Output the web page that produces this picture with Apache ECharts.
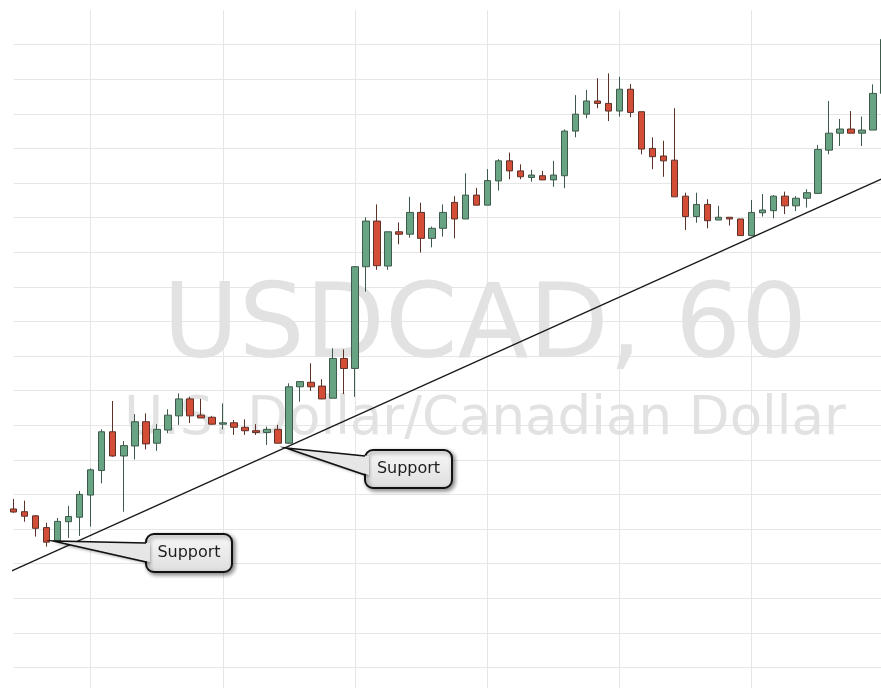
<!DOCTYPE html>
<html>
<head>
<meta charset="utf-8">
<title>USDCAD, 60</title>
<script src="https://cdn.jsdelivr.net/npm/echarts@6/dist/echarts.min.js"></script>
<style>
  html, body { margin: 0; padding: 0; background: #ffffff; }
  #chart { width: 881px; height: 688px; }
</style>
</head>
<body>
<div id="chart"></div>
<script>
// hourly USDCAD bars (open / close / low / high)
const opens = [
  1.30558, 1.30550, 1.30538, 1.30504, 1.30466, 1.30521, 1.30534, 1.30598, 1.30669, 1.30781,
  1.30711, 1.30740, 1.30810, 1.30748, 1.30786, 1.30827, 1.30876, 1.30829, 1.30823, 1.30803,
  1.30807, 1.30794, 1.30784, 1.30779, 1.30788, 1.30748, 1.30911, 1.30924, 1.30913, 1.30878,
  1.30993, 1.30964, 1.31258, 1.31390, 1.31260, 1.31359, 1.31352, 1.31415, 1.31340, 1.31369,
  1.31444, 1.31396, 1.31465, 1.31436, 1.31506, 1.31564, 1.31535, 1.31516, 1.31521, 1.31509,
  1.31521, 1.31650, 1.31699, 1.31737, 1.31730, 1.31708, 1.31771, 1.31706, 1.31600, 1.31578,
  1.31566, 1.31462, 1.31403, 1.31438, 1.31393, 1.31401, 1.31396, 1.31348, 1.31414, 1.31420,
  1.31462, 1.31434, 1.31456, 1.31470, 1.31595, 1.31644, 1.31656, 1.31644, 1.31653, 1.31759
];
const closes = [
  1.30549, 1.30537, 1.30502, 1.30462, 1.30522, 1.30536, 1.30600, 1.30671, 1.30781, 1.30711,
  1.30741, 1.30810, 1.30746, 1.30788, 1.30829, 1.30876, 1.30827, 1.30821, 1.30803, 1.30807,
  1.30794, 1.30784, 1.30779, 1.30788, 1.30748, 1.30911, 1.30926, 1.30911, 1.30876, 1.30993,
  1.30964, 1.31258, 1.31390, 1.31261, 1.31359, 1.31352, 1.31415, 1.31340, 1.31369, 1.31415,
  1.31396, 1.31465, 1.31436, 1.31507, 1.31564, 1.31535, 1.31518, 1.31523, 1.31509, 1.31523,
  1.31650, 1.31699, 1.31737, 1.31730, 1.31708, 1.31771, 1.31704, 1.31598, 1.31576, 1.31564,
  1.31460, 1.31403, 1.31438, 1.31391, 1.31401, 1.31396, 1.31348, 1.31415, 1.31422, 1.31462,
  1.31434, 1.31456, 1.31472, 1.31597, 1.31644, 1.31656, 1.31644, 1.31653, 1.31759, 1.31915
];
const lows = [
  1.30547, 1.30521, 1.30478, 1.30449, 1.30466, 1.30474, 1.30480, 1.30507, 1.30632, 1.30709,
  1.30550, 1.30701, 1.30730, 1.30726, 1.30777, 1.30801, 1.30806, 1.30821, 1.30801, 1.30788,
  1.30772, 1.30772, 1.30772, 1.30743, 1.30748, 1.30746, 1.30868, 1.30899, 1.30875, 1.30878,
  1.30890, 1.30882, 1.31186, 1.31249, 1.31249, 1.31323, 1.31342, 1.31299, 1.31314, 1.31345,
  1.31340, 1.31396, 1.31436, 1.31436, 1.31478, 1.31511, 1.31511, 1.31504, 1.31509, 1.31489,
  1.31485, 1.31632, 1.31687, 1.31716, 1.31679, 1.31692, 1.31690, 1.31583, 1.31540, 1.31518,
  1.31460, 1.31364, 1.31385, 1.31369, 1.31393, 1.31377, 1.31348, 1.31348, 1.31403, 1.31398,
  1.31410, 1.31419, 1.31429, 1.31470, 1.31583, 1.31607, 1.31644, 1.31607, 1.31653, 1.31759
];
const highs = [
  1.30587, 1.30582, 1.30540, 1.30518, 1.30532, 1.30567, 1.30610, 1.30675, 1.30788, 1.30870,
  1.30754, 1.30832, 1.30834, 1.30803, 1.30846, 1.30892, 1.30882, 1.30876, 1.30827, 1.30863,
  1.30815, 1.30817, 1.30803, 1.30796, 1.30801, 1.30921, 1.30926, 1.30979, 1.30933, 1.31022,
  1.31019, 1.31260, 1.31401, 1.31438, 1.31359, 1.31386, 1.31460, 1.31443, 1.31374, 1.31438,
  1.31462, 1.31528, 1.31486, 1.31540, 1.31569, 1.31588, 1.31554, 1.31538, 1.31535, 1.31564,
  1.31655, 1.31754, 1.31769, 1.31803, 1.31817, 1.31807, 1.31786, 1.31706, 1.31632, 1.31622,
  1.31716, 1.31472, 1.31472, 1.31453, 1.31434, 1.31401, 1.31396, 1.31451, 1.31468, 1.31465,
  1.31475, 1.31462, 1.31482, 1.31610, 1.31737, 1.31685, 1.31708, 1.31692, 1.31785, 1.31925
];

// support trendline, two ends: [bar index, price]
const trendline = [[-1, 1.30367], [80, 1.31529]];

const symbolTitle = 'USDCAD, 60';
const symbolName = 'U.S. Dollar/Canadian Dollar';
const calloutText = 'Support';

const bars = opens.map((o, i) => [o, closes[i], lows[i], highs[i]]);
const barIndex = opens.map((_, i) => i);

const chart = echarts.init(document.getElementById('chart'));

const boxFill = new echarts.graphic.LinearGradient(0, 0, 0, 1, [
    { offset: 0, color: '#f8f8f8' },
    { offset: 1, color: '#dedede' }
]);

function callout(tip, box) {
    const top = [box.x + 4, box.y + box.ptTop];
    const bottom = [box.x + 4, box.y + box.ptBottom];
    return {
        type: 'group',
        z: 20,
        children: [
            {
                type: 'rect',
                shape: { x: box.x, y: box.y, width: box.w, height: box.h, r: 8 },
                style: {
                    fill: boxFill,
                    stroke: '#111',
                    lineWidth: 2,
                    shadowBlur: 4,
                    shadowOffsetX: 2,
                    shadowOffsetY: 2,
                    shadowColor: 'rgba(0,0,0,0.45)'
                },
                z: 20
            },
            {
                type: 'polygon',
                shape: { points: [tip, top, bottom] },
                style: { fill: '#e6e6e6', shadowBlur: 3, shadowOffsetY: 2, shadowColor: 'rgba(0,0,0,0.35)' },
                z: 21
            },
            {
                type: 'polyline',
                shape: { points: [[box.x, box.y + box.ptTop], tip, [box.x, box.y + box.ptBottom]] },
                style: { stroke: '#111', lineWidth: 1.6, fill: null },
                z: 22
            },
            {
                type: 'text',
                style: {
                    text: calloutText,
                    x: box.x + box.w / 2,
                    y: box.y + box.h / 2,
                    textAlign: 'center',
                    textVerticalAlign: 'middle',
                    font: '16px "DejaVu Sans", Verdana, sans-serif',
                    fill: '#1e1e1e'
                },
                z: 23
            }
        ]
    };
}

const option = {
    animation: false,
    backgroundColor: '#ffffff',
    // the plot runs a little past the right and bottom edges of the picture
    grid: { left: 13.6, top: 10, width: 870.3, height: 692, outerBoundsMode: 'none' },
    xAxis: [
        {
            type: 'category',
            data: barIndex,
            boundaryGap: false,
            axisLine: { show: false },
            axisTick: { show: false },
            axisLabel: { show: false },
            splitLine: {
                show: true,
                interval: (i) => i % 12 === 7,
                lineStyle: { color: '#e6e6e6', width: 1 }
            }
        },
        {
            type: 'value',
            min: 0,
            max: 79,
            show: false,
            splitLine: { show: false }
        }
    ],
    yAxis: {
        type: 'value',
        min: 1.300,
        max: 1.320,
        interval: 0.001,
        axisLine: { show: false },
        axisTick: { show: false },
        axisLabel: { show: false },
        splitLine: { show: true, showMaxLine: false, lineStyle: { color: '#e6e6e6', width: 1 } }
    },
    graphic: [
        {
            type: 'text',
            z: 1,
            silent: true,
            style: {
                text: symbolTitle,
                x: 485,
                y: 329.5,
                textAlign: 'center',
                textVerticalAlign: 'middle',
                font: '104px "DejaVu Sans", Verdana, sans-serif',
                fill: '#e2e2e2'
            }
        },
        {
            type: 'text',
            z: 1,
            silent: true,
            style: {
                text: symbolName,
                x: 485,
                y: 420,
                textAlign: 'center',
                textVerticalAlign: 'middle',
                font: '53px "DejaVu Sans", Verdana, sans-serif',
                fill: '#e2e2e2'
            }
        },
        callout([53, 541], { x: 146, y: 534, w: 86, h: 38, ptTop: 9, ptBottom: 28 }),
        callout([286, 448], { x: 365, y: 450, w: 87, h: 38, ptTop: 6, ptBottom: 25 })
    ],
    series: [
        {
            name: 'USDCAD',
            type: 'candlestick',
            data: bars,
            barWidth: 7,
            clip: false,
            z: 5,
            itemStyle: {
                color: '#68a383',
                color0: '#d44d36',
                borderColor: '#3d5a4b',
                borderColor0: '#5e3128',
                borderWidth: 1
            }
        },
        {
            name: 'Support',
            type: 'line',
            xAxisIndex: 1,
            data: trendline,
            symbol: 'none',
            clip: false,
            z: 6,
            lineStyle: { color: '#1a1a1a', width: 1.3 }
        }
    ]
};

chart.setOption(option);
</script>
</body>
</html>
